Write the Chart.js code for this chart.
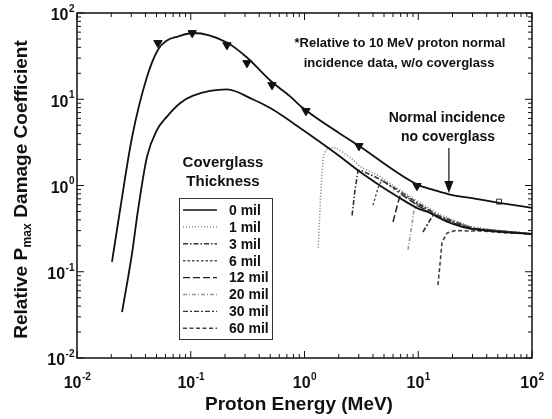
<!DOCTYPE html>
<html lang="en">
<head>
<meta charset="UTF-8">
<title>Relative Pmax Damage Coefficient vs Proton Energy</title>
<script src="https://cdn.jsdelivr.net/npm/chart.js"></script>
<style>
  body { margin: 0; background: #fff; }
  #wrap { width: 552px; height: 419px; }
</style>
</head>
<body>
<div id="wrap"><canvas id="dmgChart" width="552" height="419"></canvas></div>
<script>
// Normal incidence, no coverglass (upper curve)
const normalE = [0.0203, 0.0239, 0.0305, 0.0412, 0.0515, 0.0618, 0.0757, 0.105, 0.208, 0.312, 0.5, 0.747, 0.97, 3.05, 9.75, 14, 18.6, 32.2, 51.3, 100];
const normalD = [0.13, 0.52, 3.65, 18.1, 37.5, 48, 53, 58.6, 45.5, 30.5, 16.5, 10.8, 7.9, 2.85, 1.03, 0.88, 0.79, 0.70, 0.63, 0.55];

// measured points on the normal incidence curve
const triE = [0.0515, 0.103, 0.208, 0.312, 0.518, 1.03, 3.01, 9.75];
const triD = [44.9, 58.6, 42.5, 26.3, 14.6, 7.31, 2.87, 0.99];
const sqE = [51.3];
const sqD = [0.65];

// coverglass thickness curves
const mil0E = [0.0249, 0.0305, 0.0344, 0.0412, 0.05, 0.0618, 0.0805, 0.105, 0.208, 0.35, 0.5, 0.97, 1.93, 3.05, 4.6, 6.5, 10, 12.7, 17.9, 24.7, 34.9, 100];
const mil0D = [0.034, 0.165, 0.52, 2.14, 4.3, 6.3, 9.0, 11.0, 13.0, 10.0, 7.9, 4.4, 2.3, 1.45, 1.0, 0.75, 0.54, 0.48, 0.38, 0.33, 0.305, 0.274];
const mil1E = [1.32, 1.38, 1.46, 1.6, 1.9, 2.5, 3.1, 4.5, 6.0, 10, 15, 20, 30, 50, 100];
const mil1D = [0.19, 0.7, 2.2, 2.75, 2.72, 2.15, 1.65, 1.3, 1.0, 0.65, 0.47, 0.40, 0.33, 0.30, 0.276];
const mil3E = [2.62, 2.78, 2.96, 3.2, 4.5, 6.5, 10, 15, 20, 30, 100];
const mil3D = [0.45, 0.89, 1.5, 1.48, 1.2, 0.9, 0.62, 0.45, 0.39, 0.32, 0.275];
const mil6E = [4.0, 4.43, 4.8, 6.5, 10, 15, 20, 30, 100];
const mil6D = [0.59, 0.94, 1.15, 0.86, 0.6, 0.44, 0.38, 0.32, 0.275];
const mil12E = [6.0, 6.63, 7.0, 10, 15, 20, 30, 100];
const mil12D = [0.378, 0.63, 0.8, 0.58, 0.43, 0.37, 0.315, 0.275];
const mil20E = [8.13, 8.64, 9.18, 9.8, 12, 15, 20, 30, 100];
const mil20D = [0.179, 0.305, 0.52, 0.6, 0.5, 0.43, 0.37, 0.315, 0.275];
const mil30E = [11.0, 12.7, 13.5, 17, 20, 30, 100];
const mil30D = [0.289, 0.398, 0.45, 0.4, 0.37, 0.31, 0.275];
const mil60E = [14.9, 15.5, 16.2, 17.9, 21.1, 28.5, 34.9, 64, 100];
const mil60D = [0.070, 0.12, 0.221, 0.281, 0.300, 0.297, 0.297, 0.281, 0.275];

const coverLabels = ['0 mil', '1 mil', '3 mil', '6 mil', '12 mil', '20 mil', '30 mil', '60 mil'];
const coverE = [mil0E, mil1E, mil3E, mil6E, mil12E, mil20E, mil30E, mil60E];
const coverD = [mil0D, mil1D, mil3D, mil6D, mil12D, mil20D, mil30D, mil60D];

// line looks for each coverglass curve
const coverStyle = [
  { color: '#111', dash: [], width: 1.8 },
  { color: '#777', dash: [1, 2], width: 1.5 },
  { color: '#333', dash: [5, 2, 1.5, 2], width: 1.6 },
  { color: '#555', dash: [2.5, 2], width: 1.4 },
  { color: '#222', dash: [7, 3], width: 1.5 },
  { color: '#999', dash: [4, 2, 1, 2], width: 1.6 },
  { color: '#333', dash: [5, 2, 2, 2], width: 1.6 },
  { color: '#444', dash: [4, 2.5], width: 1.6 }
];

const FONT = '"Liberation Sans", Arial, sans-serif';

function zip(xs, ys) {
  return xs.map((x, i) => ({ x: x, y: ys[i] }));
}

const datasets = [];
datasets.push({
  label: 'Normal incidence, no coverglass',
  data: zip(normalE, normalD),
  borderColor: '#111',
  borderWidth: 1.8,
  cubicInterpolationMode: 'monotone',
  pointRadius: 0
});
coverLabels.forEach((lab, i) => {
  const st = coverStyle[i];
  datasets.push({
    label: lab,
    data: zip(coverE[i], coverD[i]),
    borderColor: st.color,
    borderDash: st.dash,
    borderWidth: st.width,
    cubicInterpolationMode: i === 0 ? 'monotone' : 'default',
    tension: 0,
    pointRadius: 0
  });
});
datasets.push({
  label: 'data',
  data: zip(triE, triD),
  showLine: false,
  pointStyle: 'triangle',
  rotation: 180,
  pointRadius: 4.8,
  backgroundColor: '#111',
  borderColor: '#111',
  borderWidth: 1
});
datasets.push({
  label: 'data 2',
  data: zip(sqE, sqD),
  showLine: false,
  pointStyle: 'rect',
  pointRadius: 3.5,
  backgroundColor: '#fff',
  borderColor: '#333',
  borderWidth: 1
});

// draw "10" with a superscript exponent
function powLabel(ctx, exp, x, y, align) {
  const base = '10', sup = String(exp);
  ctx.font = 'bold 16px ' + FONT;
  const wb = ctx.measureText(base).width;
  ctx.font = 'bold 10px ' + FONT;
  const ws = ctx.measureText(sup).width;
  let x0 = align === 'right' ? x - wb - ws : x - (wb + ws) / 2;
  ctx.textAlign = 'left';
  ctx.textBaseline = 'middle';
  ctx.font = 'bold 16px ' + FONT;
  ctx.fillText(base, x0, y);
  ctx.font = 'bold 10px ' + FONT;
  ctx.fillText(sup, x0 + wb + 0.5, y - 7);
}

const decorations = {
  id: 'decorations',
  afterDraw(chart) {
    const ctx = chart.ctx;
    const { left, right, top, bottom } = chart.chartArea;
    const xs = chart.scales.x, ys = chart.scales.y;
    ctx.save();
    ctx.fillStyle = '#111';
    ctx.strokeStyle = '#111';

    // frame
    ctx.lineWidth = 1.5;
    ctx.strokeRect(left, top, right - left, bottom - top);

    // inward ticks on all four sides
    ctx.lineWidth = 1;
    for (let e = -2; e <= 2; e++) {
      for (let m = 1; m <= 9; m++) {
        if (e === 2 && m > 1) break;
        const v = m * Math.pow(10, e);
        const len = m === 1 ? 7 : 4;
        const px = xs.getPixelForValue(v);
        const py = ys.getPixelForValue(v);
        ctx.beginPath();
        ctx.moveTo(px, bottom); ctx.lineTo(px, bottom - len);
        ctx.moveTo(px, top); ctx.lineTo(px, top + len);
        ctx.moveTo(left, py); ctx.lineTo(left + len, py);
        ctx.moveTo(right, py); ctx.lineTo(right - len, py);
        ctx.stroke();
      }
    }

    // tick labels
    for (let e = -2; e <= 2; e++) {
      const v = Math.pow(10, e);
      powLabel(ctx, e, xs.getPixelForValue(v), bottom + 26, 'center');
      powLabel(ctx, e, left - 3, ys.getPixelForValue(v) + 3, 'right');
    }

    // axis titles
    ctx.textBaseline = 'middle';
    ctx.textAlign = 'center';
    ctx.font = 'bold 19px ' + FONT;
    ctx.fillText('Proton Energy (MeV)', 299, 405);

    ctx.save();
    ctx.translate(22, 190);
    ctx.rotate(-Math.PI / 2);
    const t1 = 'Relative P', t2 = 'max', t3 = ' Damage Coefficient';
    ctx.font = 'bold 19px ' + FONT;
    const w1 = ctx.measureText(t1).width, w3 = ctx.measureText(t3).width;
    ctx.font = 'bold 12px ' + FONT;
    const w2 = ctx.measureText(t2).width;
    let sx = -(w1 + w2 + w3) / 2;
    ctx.textAlign = 'left';
    ctx.font = 'bold 19px ' + FONT;
    ctx.fillText(t1, sx, 0);
    ctx.font = 'bold 12px ' + FONT;
    ctx.fillText(t2, sx + w1 + 0.5, 6);
    ctx.font = 'bold 19px ' + FONT;
    ctx.fillText(t3, sx + w1 + w2 + 1, 0);
    ctx.restore();

    // note at top
    ctx.textAlign = 'center';
    ctx.font = 'bold 13px ' + FONT;
    ctx.fillText('*Relative to 10 MeV proton normal', 400, 43);
    ctx.fillText('incidence data, w/o coverglass', 399, 63);

    // normal incidence label and arrow
    ctx.font = 'bold 14px ' + FONT;
    ctx.fillText('Normal incidence', 447, 118);
    ctx.fillText('no coverglass', 448, 137);
    const ax = xs.getPixelForValue(18.6);
    const tip = ys.getPixelForValue(0.82);
    ctx.lineWidth = 1.2;
    ctx.beginPath();
    ctx.moveTo(ax, 148); ctx.lineTo(ax, tip - 10);
    ctx.stroke();
    ctx.beginPath();
    ctx.moveTo(ax - 4.5, tip - 12); ctx.lineTo(ax + 4.5, tip - 12); ctx.lineTo(ax, tip);
    ctx.closePath();
    ctx.fill();

    // coverglass legend
    ctx.font = 'bold 15px ' + FONT;
    ctx.fillText('Coverglass', 223, 163);
    ctx.fillText('Thickness', 223, 182);
    ctx.lineWidth = 1;
    ctx.strokeStyle = '#333';
    ctx.strokeRect(179.5, 198.5, 93, 141);
    ctx.textAlign = 'left';
    ctx.font = 'bold 14px ' + FONT;
    coverLabels.forEach((lab, i) => {
      const y = 210 + i * 16.9;
      const st = coverStyle[i];
      ctx.save();
      ctx.strokeStyle = st.color;
      ctx.lineWidth = Math.min(st.width, 1.4);
      ctx.setLineDash(st.dash);
      ctx.beginPath();
      ctx.moveTo(183, y); ctx.lineTo(217, y);
      ctx.stroke();
      ctx.restore();
      ctx.fillStyle = '#111';
      ctx.fillText(lab, 229, y + 1);
    });
    ctx.restore();
  }
};

new Chart(document.getElementById('dmgChart'), {
  type: 'line',
  data: { datasets: datasets },
  options: {
    responsive: false,
    animation: false,
    devicePixelRatio: 1,
    layout: { padding: { top: 13, right: 20, left: 0, bottom: 0 }, autoPadding: false },
    plugins: { legend: { display: false }, tooltip: { enabled: false } },
    scales: {
      x: {
        type: 'logarithmic', min: 0.01, max: 100,
        grid: { display: false }, border: { display: false },
        ticks: { display: false },
        afterFit: s => { s.height = 61; }
      },
      y: {
        type: 'logarithmic', min: 0.01, max: 100,
        grid: { display: false }, border: { display: false },
        ticks: { display: false },
        afterFit: s => { s.width = 77; }
      }
    }
  },
  plugins: [decorations]
});
</script>
</body>
</html>
